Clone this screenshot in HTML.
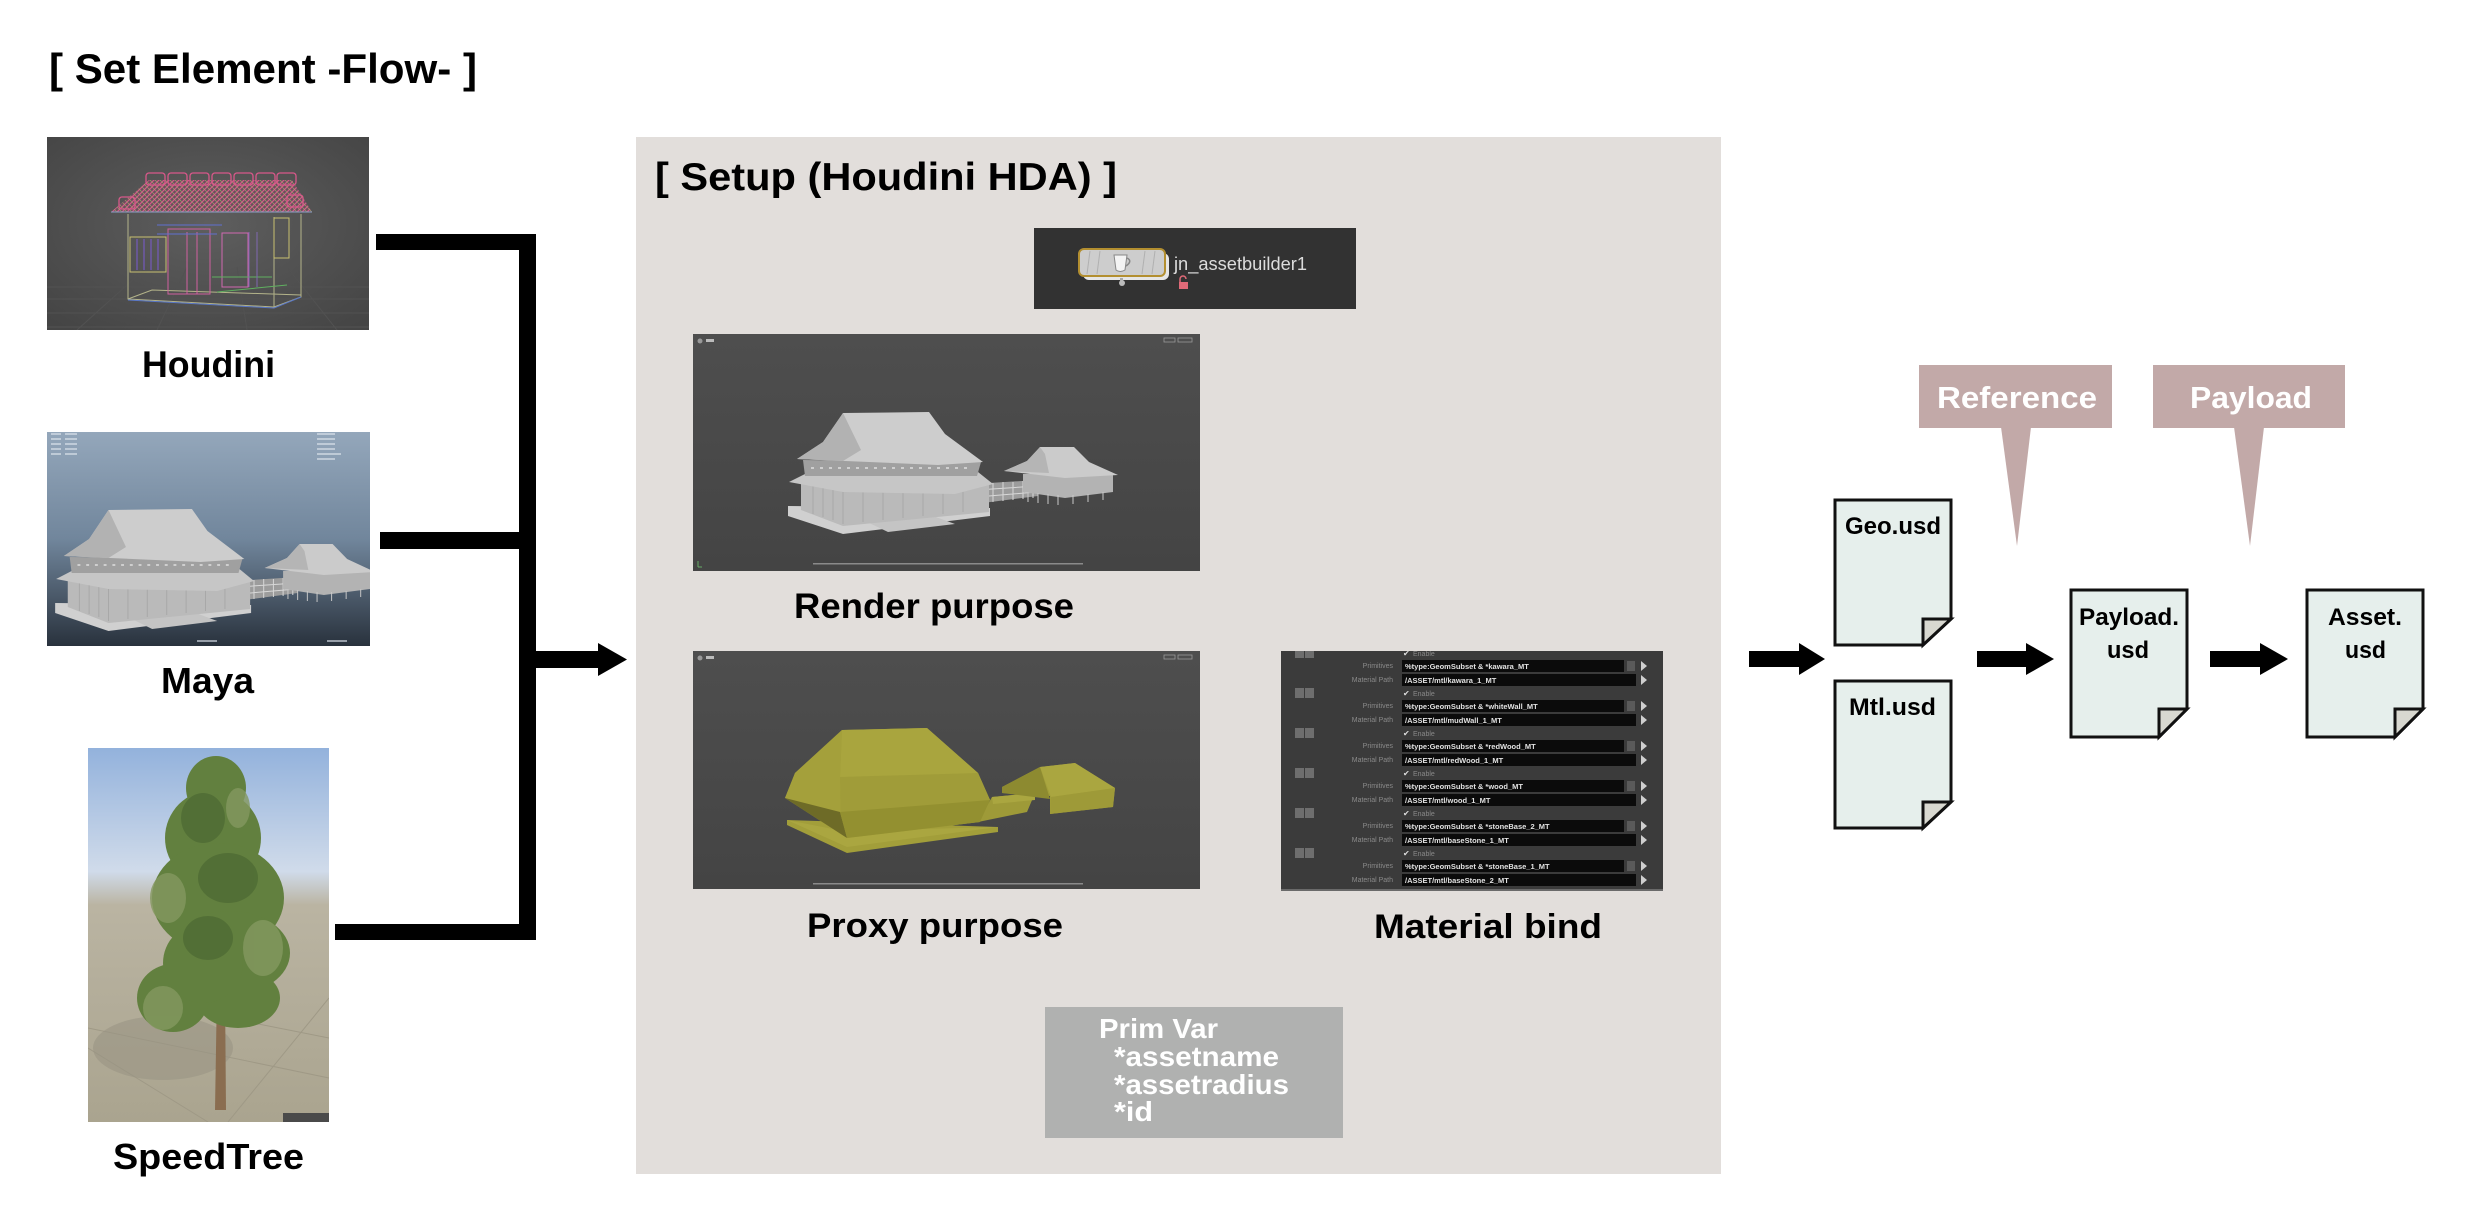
<!DOCTYPE html>
<html><head><meta charset="utf-8"><style>
html,body{margin:0;padding:0;background:#fff;}
svg{display:block;}
text{font-family:"Liberation Sans",Arial,sans-serif;}
.b{font-weight:bold;}
.mono{font-family:"Liberation Mono","DejaVu Sans Mono",monospace;font-weight:bold;}
</style></head><body>
<svg width="2468" height="1220" viewBox="0 0 2468 1220" xmlns="http://www.w3.org/2000/svg" xmlns:xlink="http://www.w3.org/1999/xlink">
<defs>
  <radialGradient id="hg" cx="0.5" cy="0.45" r="0.7"><stop offset="0" stop-color="#5e5e5e"/><stop offset="1" stop-color="#454545"/></radialGradient>
  <linearGradient id="mg" x1="0" y1="0" x2="0" y2="1"><stop offset="0" stop-color="#94a7bb"/><stop offset="0.5" stop-color="#71869c"/><stop offset="1" stop-color="#29323d"/></linearGradient>
  <linearGradient id="rg" x1="0" y1="0" x2="0" y2="1"><stop offset="0" stop-color="#4e4e4e"/><stop offset="1" stop-color="#444"/></linearGradient>
  <linearGradient id="sg" x1="0" y1="0" x2="0" y2="1"><stop offset="0" stop-color="#93b2dc"/><stop offset="0.33" stop-color="#d0dbea"/><stop offset="0.42" stop-color="#bab4a2"/><stop offset="1" stop-color="#aaa48f"/></linearGradient>
  <pattern id="roofh" width="5" height="5" patternUnits="userSpaceOnUse">
    <rect width="5" height="5" fill="#6a4f5c"/>
    <path d="M0,5 L5,0" stroke="#d25a88" stroke-width="1.2"/>
    <path d="M0,0 L5,5" stroke="#b0a870" stroke-width="0.6"/>
  </pattern>
  <clipPath id="cH"><rect x="0" y="0" width="322" height="193"/></clipPath>
  <clipPath id="cM"><rect x="0" y="0" width="323" height="214"/></clipPath>
  <clipPath id="cS"><rect x="0" y="0" width="241" height="374"/></clipPath>
  <clipPath id="cB"><rect x="1281" y="651" width="382" height="240"/></clipPath>
  <g id="temple">
    <polygon points="280,150 345,146 345,162 282,170" fill="#9c9c9c"/>
    <path d="M284,156 L344,152 M284,163 L344,158 M290,150 V168 M300,149 V168 M310,148 V167 M320,148 V166 M330,147 V165 M340,147 V164" stroke="#d8d8d8" stroke-width="1"/>
    <polygon points="330,140 420,140 420,158 372,164 330,158" fill="#b3b3b3"/>
    <path d="M335,158 V168 M345,159 V169 M355,160 V170 M365,161 V171 M380,161 V170 M395,160 V168 M410,158 V166" stroke="#c8c8c8" stroke-width="1"/>
    <polygon points="347,113 381,113 396,128 425,141 372,144 311,137 334,127" fill="#cbcbcb"/>
    <polygon points="347,113 334,127 311,137 356,139 352,120" fill="#b5b5b5"/>
    <polygon points="95,172 297,174 297,182 150,200 95,182" fill="#d0d0d0"/>
    <polygon points="170,186 240,182 262,190 195,198" fill="#c4c4c4"/>
    <polygon points="108,150 296,150 296,178 150,192 108,176" fill="#bababa"/>
    <path d="M120,152 V180 M130,153 V183 M140,154 V186 M150,155 V190 M170,156 V188 M190,156 V186 M210,156 V184 M230,156 V182 M250,155 V180 M270,154 V178" stroke="#a8a8a8" stroke-width="1"/>
    <polygon points="96,148 112,140 285,138 300,150 262,160 150,158" fill="#c6c6c6"/>
    <polygon points="110,126 288,128 284,142 112,142" fill="#a0a0a0"/>
    <path d="M118,134 H280" stroke="#cfcfcf" stroke-width="2" stroke-dasharray="3,6"/>
    <polygon points="150,79 236,78 252,100 290,128 245,131 152,127 104,125 130,108" fill="#cdcdcd"/>
    <polygon points="150,79 130,108 104,125 150,127 168,116" fill="#b2b2b2"/>
  </g>
</defs>

<!-- Title -->
<text x="49" y="83" class="b" font-size="42" textLength="428" lengthAdjust="spacingAndGlyphs" fill="#000">[ Set Element -Flow- ]</text>

<!-- Houdini image -->
<g transform="translate(47,137)" clip-path="url(#cH)">
  <rect width="322" height="193" fill="url(#hg)"/>
  <path d="M0,150 H322 M0,162 H322 M0,176 H322 M0,190 H322 M30,193 L100,130 M110,193 L140,130 M200,193 L190,130 M290,193 L240,130" stroke="#525252" stroke-width="1"/>
  <polygon points="64,75 102,43 245,43 265,75" fill="url(#roofh)"/>
  <g fill="none" stroke="#d8588a" stroke-width="1.3">
    <rect x="99" y="36" width="19" height="12" rx="3"/><rect x="121" y="36" width="19" height="12" rx="3"/>
    <rect x="143" y="36" width="19" height="12" rx="3"/><rect x="165" y="36" width="19" height="12" rx="3"/>
    <rect x="187" y="36" width="19" height="12" rx="3"/><rect x="209" y="36" width="19" height="12" rx="3"/>
    <rect x="230" y="36" width="19" height="12" rx="3"/>
    <rect x="72" y="60" width="16" height="12" rx="3"/><rect x="240" y="58" width="16" height="12" rx="3"/>
  </g>
  <path d="M64,75 H265" stroke="#8aa0c8" stroke-width="1"/>
  <g fill="none" stroke-width="1">
    <path d="M81,77 V162 L227,170 V80 M227,170 L254,160 V77 M81,162 L105,153 L254,158" stroke="#b4b48a"/>
    <path d="M81,163 L227,171 L254,160" stroke="#5a78c8"/>
    <rect x="121" y="92" width="42" height="65" stroke="#d060a0"/>
    <path d="M140,95 V157 M150,95 V157" stroke="#d060a0"/>
    <rect x="175" y="96" width="26" height="54" stroke="#d068b0"/>
    <rect x="83" y="100" width="36" height="35" stroke="#c8c070"/>
    <path d="M90,102 V133 M97,102 V133 M104,102 V133 M111,102 V133" stroke="#7a5ad0"/>
    <rect x="227" y="81" width="15" height="40" stroke="#c8c070"/>
    <path d="M110,88 H175 M110,97 H170" stroke="#6070d0"/>
    <path d="M170,155 L240,148 M165,140 H225" stroke="#60b060"/>
    <path d="M202,95 V150 M210,95 V150" stroke="#8068b0"/>
  </g>
</g>
<text x="142" y="377" class="b" font-size="37" textLength="133" lengthAdjust="spacingAndGlyphs">Houdini</text>

<!-- Maya image -->
<g transform="translate(47,432)" clip-path="url(#cM)">
  <rect width="323" height="214" fill="url(#mg)"/>
  <g fill="#dfe6ee" opacity="0.6">
    <rect x="4" y="1" width="10" height="2"/><rect x="18" y="1" width="12" height="2"/><rect x="4" y="6" width="10" height="2"/><rect x="18" y="6" width="12" height="2"/>
    <rect x="4" y="11" width="10" height="2"/><rect x="18" y="11" width="12" height="2"/><rect x="4" y="16" width="10" height="2"/><rect x="18" y="16" width="12" height="2"/>
    <rect x="4" y="21" width="10" height="2"/><rect x="18" y="21" width="12" height="2"/>
    <rect x="270" y="1" width="18" height="2"/><rect x="270" y="6" width="18" height="2"/><rect x="270" y="11" width="18" height="2"/><rect x="270" y="16" width="18" height="2"/><rect x="270" y="21" width="24" height="2"/><rect x="270" y="26" width="18" height="2"/>
    <rect x="150" y="208" width="20" height="2"/><rect x="280" y="208" width="20" height="2"/>
  </g>
  <use xlink:href="#temple" href="#temple" transform="translate(-84,-1) scale(0.97,1)"/>
</g>
<text x="161" y="693" class="b" font-size="36" textLength="93" lengthAdjust="spacingAndGlyphs">Maya</text>

<!-- SpeedTree image -->
<g transform="translate(88,748)" clip-path="url(#cS)">
  <rect width="241" height="374" fill="url(#sg)"/>
  <path d="M0,280 L241,330 M0,300 L120,374 M90,260 L241,290 M140,374 L241,250" stroke="#9f9986" stroke-width="1"/>
  <ellipse cx="75" cy="300" rx="70" ry="32" fill="#9a9484" opacity="0.6"/>
  <path d="M127,362 L129,240 L137,240 L138,362 Z" fill="#8a6d50"/>
  <g fill="#62803f">
    <ellipse cx="128" cy="40" rx="30" ry="32"/>
    <ellipse cx="125" cy="90" rx="48" ry="48"/>
    <ellipse cx="130" cy="150" rx="66" ry="55"/>
    <ellipse cx="142" cy="205" rx="60" ry="42"/>
    <ellipse cx="150" cy="250" rx="42" ry="30"/>
    <ellipse cx="85" cy="250" rx="36" ry="34"/>
    <ellipse cx="115" cy="215" rx="40" ry="40"/>
  </g>
  <g fill="#4f6b34" opacity="0.8">
    <ellipse cx="115" cy="70" rx="22" ry="25"/>
    <ellipse cx="140" cy="130" rx="30" ry="25"/>
    <ellipse cx="120" cy="190" rx="25" ry="22"/>
  </g>
  <g fill="#849860" opacity="0.8">
    <ellipse cx="80" cy="150" rx="18" ry="25"/>
    <ellipse cx="175" cy="200" rx="20" ry="28"/>
    <ellipse cx="75" cy="260" rx="20" ry="22"/>
    <ellipse cx="150" cy="60" rx="12" ry="20"/>
  </g>
  <rect x="195" y="365" width="46" height="9" fill="#4a4a4a"/>
</g>
<text x="113" y="1169" class="b" font-size="36" textLength="191" lengthAdjust="spacingAndGlyphs">SpeedTree</text>

<!-- Connectors left -->
<rect x="376" y="234" width="160" height="16" fill="#000"/>
<rect x="519" y="234" width="17" height="706" fill="#000"/>
<rect x="380" y="532" width="140" height="17" fill="#000"/>
<rect x="335" y="924" width="201" height="16" fill="#000"/>
<rect x="535" y="651" width="65" height="17" fill="#000"/>
<polygon points="598,643 627,659.5 598,676" fill="#000"/>

<!-- Setup panel -->
<rect x="636" y="137" width="1085" height="1037" fill="#e2dedb"/>
<text x="655" y="190" class="b" font-size="39" textLength="462" lengthAdjust="spacingAndGlyphs">[ Setup (Houdini HDA) ]</text>

<!-- Node -->
<rect x="1034" y="228" width="322" height="81" fill="#323232"/>
<rect x="1083" y="253" width="86" height="27" rx="6" fill="#e6e6e6"/>
<rect x="1079" y="249" width="86" height="27" rx="5" fill="#cdcdcd" stroke="#b38f30" stroke-width="2"/>
<path d="M1090,251 L1087,274 M1100,251 L1097,274 M1145,251 L1142,274 M1155,251 L1152,274" stroke="#b0b0b0" stroke-width="1"/>
<path d="M1114,255 H1127 L1125,270 Q1120,273 1116,270 Z" fill="#f4f4f4" stroke="#888" stroke-width="1"/>
<path d="M1127,258 Q1133,261 1126,266" fill="none" stroke="#888" stroke-width="1.5"/>
<rect x="1120" y="278" width="3" height="4" fill="#aaa"/>
<circle cx="1122" cy="283" r="3" fill="#bbb"/>
<text x="1174" y="270" font-size="18" fill="#dcdcdc" textLength="133" lengthAdjust="spacingAndGlyphs">jn_assetbuilder1</text>
<path d="M1180,282 V279 A3,3 0 0 1 1186,279" fill="none" stroke="#e06a78" stroke-width="1.5"/>
<rect x="1179" y="282" width="9" height="7" fill="#e06a78"/>

<!-- Render purpose image -->
<rect x="693" y="334" width="507" height="237" fill="url(#rg)"/>
<g transform="translate(693,334)">
  <circle cx="7" cy="7" r="2.5" fill="#999"/><rect x="13" y="5" width="8" height="3" fill="#bbb"/>
  <rect x="471" y="4" width="11" height="4" fill="none" stroke="#999" stroke-width="0.8"/><rect x="485" y="4" width="14" height="4" fill="none" stroke="#999" stroke-width="0.8"/>
  <rect x="120" y="229" width="270" height="1.5" fill="#8a8a8a"/>
  <path d="M5,233 V227 M5,233 H9" stroke="#6a6" stroke-width="1"/>
  <use xlink:href="#temple" href="#temple"/>
</g>
<text x="794" y="618" class="b" font-size="35" textLength="280" lengthAdjust="spacingAndGlyphs">Render purpose</text>

<!-- Proxy purpose image -->
<rect x="693" y="651" width="507" height="238" fill="url(#rg)"/>
<g transform="translate(693,651)">
  <circle cx="7" cy="7" r="2.5" fill="#999"/><rect x="13" y="5" width="8" height="3" fill="#bbb"/>
  <rect x="471" y="4" width="11" height="4" fill="none" stroke="#999" stroke-width="0.8"/><rect x="485" y="4" width="14" height="4" fill="none" stroke="#999" stroke-width="0.8"/>
  <rect x="120" y="232" width="270" height="1.5" fill="#8a8a8a"/>
  <!-- slab -->
  <polygon points="94,169 305,176 305,181 154,202 94,174" fill="#a29e3a"/>
  <polygon points="94,169 150,180 305,176 154,196" fill="#aaa640"/>
  <!-- walkway -->
  <polygon points="299,146 342,142 334,161 285,171" fill="#9e9a38"/>
  <polygon points="299,146 342,142 342,149 300,153" fill="#aaa640"/>
  <!-- main body -->
  <polygon points="149,79 234,77 285,122 297,149 287,171 154,187 92,147 102,122" fill="#a29e3a"/>
  <polygon points="149,79 234,77 285,122 297,149 148,165 147,126" fill="#a9a53e"/>
  <polygon points="149,79 102,122 92,147 147,161 147,126" fill="#a4a03b"/>
  <polygon points="147,126 285,122 297,149 148,165" fill="#a09c39"/>
  <polygon points="92,147 147,161 154,187" fill="#6e6b27"/>
  <polygon points="147,161 297,149 287,171 154,187" fill="#939030"/>
  <!-- small building -->
  <polygon points="347,116 382,112 422,137 420,156 357,163 357,145 309,142 309,136" fill="#a29e3a"/>
  <polygon points="347,116 382,112 422,137 358,146" fill="#aaa640"/>
  <polygon points="347,116 309,136 309,142 357,148" fill="#8d8a30"/>
  <polygon points="358,146 422,137 420,156 357,163" fill="#9e9a38"/>
</g>
<text x="807" y="937" class="b" font-size="34" textLength="256" lengthAdjust="spacingAndGlyphs">Proxy purpose</text>

<!-- Material bind image -->
<rect x="1281" y="651" width="382" height="240" fill="#3b3b3b"/>
<g clip-path="url(#cB)">
  <rect x="1295" y="648" width="9" height="10" fill="#6e6e6e"/><rect x="1305" y="648" width="9" height="10" fill="#6e6e6e"/>
  <text x="1403" y="656" font-size="8" fill="#ddd">✔</text><text x="1413" y="656" font-size="7" fill="#888">Enable</text>
</g>
<g font-size="7" fill="#8a8a8a" text-anchor="end">
  <text x="1393" y="668">Primitives</text><text x="1393" y="682">Material Path</text>
  <text x="1393" y="708">Primitives</text><text x="1393" y="722">Material Path</text>
  <text x="1393" y="748">Primitives</text><text x="1393" y="762">Material Path</text>
  <text x="1393" y="788">Primitives</text><text x="1393" y="802">Material Path</text>
  <text x="1393" y="828">Primitives</text><text x="1393" y="842">Material Path</text>
  <text x="1393" y="868">Primitives</text><text x="1393" y="882">Material Path</text>
</g>
<g fill="#0b0b0b">
  <rect x="1402" y="660" width="222" height="12"/><rect x="1402" y="674" width="234" height="12"/>
  <rect x="1402" y="700" width="222" height="12"/><rect x="1402" y="714" width="234" height="12"/>
  <rect x="1402" y="740" width="222" height="12"/><rect x="1402" y="754" width="234" height="12"/>
  <rect x="1402" y="780" width="222" height="12"/><rect x="1402" y="794" width="234" height="12"/>
  <rect x="1402" y="820" width="222" height="12"/><rect x="1402" y="834" width="234" height="12"/>
  <rect x="1402" y="860" width="222" height="12"/><rect x="1402" y="874" width="234" height="12"/>
</g>
<g fill="#5a5a5a">
  <rect x="1627" y="661" width="8" height="10"/><rect x="1627" y="701" width="8" height="10"/>
  <rect x="1627" y="741" width="8" height="10"/><rect x="1627" y="781" width="8" height="10"/>
  <rect x="1627" y="821" width="8" height="10"/><rect x="1627" y="861" width="8" height="10"/>
</g>
<g fill="#cfcfcf">
  <polygon points="1641,661 1647,666 1641,671"/><polygon points="1641,675 1647,680 1641,685"/>
  <polygon points="1641,701 1647,706 1641,711"/><polygon points="1641,715 1647,720 1641,725"/>
  <polygon points="1641,741 1647,746 1641,751"/><polygon points="1641,755 1647,760 1641,765"/>
  <polygon points="1641,781 1647,786 1641,791"/><polygon points="1641,795 1647,800 1641,805"/>
  <polygon points="1641,821 1647,826 1641,831"/><polygon points="1641,835 1647,840 1641,845"/>
  <polygon points="1641,861 1647,866 1641,871"/><polygon points="1641,875 1647,880 1641,885"/>
</g>
<g class="mono" font-size="7.5" fill="#e2e2e2">
  <text x="1405" y="669">%type:GeomSubset &amp; *kawara_MT</text><text x="1405" y="683">/ASSET/mtl/kawara_1_MT</text>
  <text x="1405" y="709">%type:GeomSubset &amp; *whiteWall_MT</text><text x="1405" y="723">/ASSET/mtl/mudWall_1_MT</text>
  <text x="1405" y="749">%type:GeomSubset &amp; *redWood_MT</text><text x="1405" y="763">/ASSET/mtl/redWood_1_MT</text>
  <text x="1405" y="789">%type:GeomSubset &amp; *wood_MT</text><text x="1405" y="803">/ASSET/mtl/wood_1_MT</text>
  <text x="1405" y="829">%type:GeomSubset &amp; *stoneBase_2_MT</text><text x="1405" y="843">/ASSET/mtl/baseStone_1_MT</text>
  <text x="1405" y="869">%type:GeomSubset &amp; *stoneBase_1_MT</text><text x="1405" y="883">/ASSET/mtl/baseStone_2_MT</text>
</g>
<g>
  <rect x="1295" y="688" width="9" height="10" fill="#6e6e6e"/><rect x="1305" y="688" width="9" height="10" fill="#6e6e6e"/>
  <rect x="1295" y="728" width="9" height="10" fill="#6e6e6e"/><rect x="1305" y="728" width="9" height="10" fill="#6e6e6e"/>
  <rect x="1295" y="768" width="9" height="10" fill="#6e6e6e"/><rect x="1305" y="768" width="9" height="10" fill="#6e6e6e"/>
  <rect x="1295" y="808" width="9" height="10" fill="#6e6e6e"/><rect x="1305" y="808" width="9" height="10" fill="#6e6e6e"/>
  <rect x="1295" y="848" width="9" height="10" fill="#6e6e6e"/><rect x="1305" y="848" width="9" height="10" fill="#6e6e6e"/>
  <g font-size="8" fill="#ddd">
    <text x="1403" y="696">✔</text><text x="1403" y="736">✔</text><text x="1403" y="776">✔</text><text x="1403" y="816">✔</text><text x="1403" y="856">✔</text>
  </g>
  <g font-size="7" fill="#888">
    <text x="1413" y="696">Enable</text><text x="1413" y="736">Enable</text><text x="1413" y="776">Enable</text><text x="1413" y="816">Enable</text><text x="1413" y="856">Enable</text>
  </g>
</g>
<rect x="1281" y="889" width="382" height="2" fill="#6a6a6a"/>
<text x="1374" y="938" class="b" font-size="34" textLength="228" lengthAdjust="spacingAndGlyphs">Material bind</text>

<!-- Prim Var -->
<rect x="1045" y="1007" width="298" height="131" fill="#b0b1b0"/>
<g class="b" fill="#fff" font-size="28">
  <text x="1099" y="1038" textLength="119" lengthAdjust="spacingAndGlyphs">Prim Var</text>
  <text x="1114" y="1066" textLength="165" lengthAdjust="spacingAndGlyphs">*assetname</text>
  <text x="1114" y="1094" textLength="175" lengthAdjust="spacingAndGlyphs">*assetradius</text>
  <text x="1114" y="1121" textLength="39" lengthAdjust="spacingAndGlyphs">*id</text>
</g>

<!-- Callouts -->
<rect x="1919" y="365" width="193" height="63" fill="#c2a9a8"/>
<polygon points="2001,427 2031,427 2017,546" fill="#c2a9a8"/>
<text x="1937" y="408" class="b" font-size="31" fill="#fff" textLength="160" lengthAdjust="spacingAndGlyphs">Reference</text>
<rect x="2153" y="365" width="192" height="63" fill="#c2a9a8"/>
<polygon points="2234,427 2264,427 2250,546" fill="#c2a9a8"/>
<text x="2190" y="408" class="b" font-size="31" fill="#fff" textLength="122" lengthAdjust="spacingAndGlyphs">Payload</text>

<!-- Right arrows -->
<rect x="1749" y="651" width="51" height="16" fill="#000"/>
<polygon points="1799,643 1825,659 1799,675" fill="#000"/>
<rect x="1977" y="651" width="50" height="16" fill="#000"/>
<polygon points="2026,643 2054,659 2026,675" fill="#000"/>
<rect x="2210" y="651" width="51" height="16" fill="#000"/>
<polygon points="2260,643 2288,659 2260,675" fill="#000"/>

<!-- Documents -->
<g stroke="#111" stroke-width="3" stroke-linejoin="miter">
  <polygon points="1835,500 1951,500 1951,619 1923,645 1835,645" fill="#e6efec"/>
  <polygon points="1923,645 1923,619 1951,619" fill="#d8d8d0"/>
  <polygon points="1835,681 1951,681 1951,802 1923,828 1835,828" fill="#e6efec"/>
  <polygon points="1923,828 1923,802 1951,802" fill="#d8d8d0"/>
  <polygon points="2071,590 2187,590 2187,709 2159,737 2071,737" fill="#e6efec"/>
  <polygon points="2159,737 2159,709 2187,709" fill="#d8d8d0"/>
  <polygon points="2307,590 2423,590 2423,709 2395,737 2307,737" fill="#e6efec"/>
  <polygon points="2395,737 2395,709 2423,709" fill="#d8d8d0"/>
</g>
<g class="b" font-size="24" fill="#000">
  <text x="1845" y="534" textLength="96" lengthAdjust="spacingAndGlyphs">Geo.usd</text>
  <text x="1849" y="715" textLength="87" lengthAdjust="spacingAndGlyphs">Mtl.usd</text>
  <text x="2079" y="625" textLength="100" lengthAdjust="spacingAndGlyphs">Payload.</text>
  <text x="2107" y="658" textLength="42" lengthAdjust="spacingAndGlyphs">usd</text>
  <text x="2328" y="625" textLength="74" lengthAdjust="spacingAndGlyphs">Asset.</text>
  <text x="2345" y="658" textLength="41" lengthAdjust="spacingAndGlyphs">usd</text>
</g>
</svg>
</body></html>
